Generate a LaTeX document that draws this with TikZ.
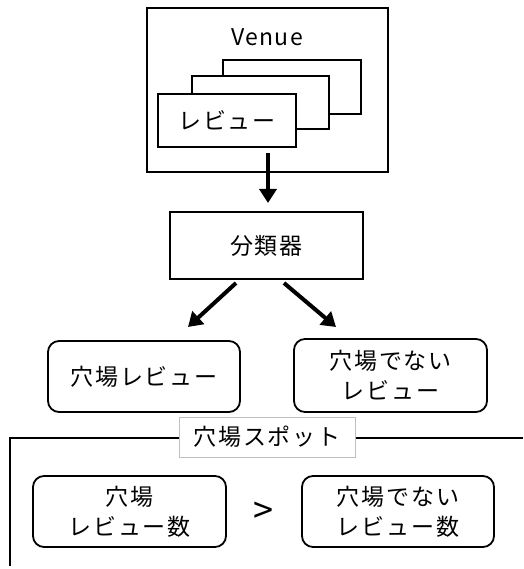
\documentclass[tikz,border=0pt]{standalone}
\usepackage{fontspec}
\setmainfont{Noto Sans CJK JP}[LetterSpace=8]
\newfontfamily\latinfont{Noto Sans CJK JP}[LetterSpace=6]
\usetikzlibrary{arrows.meta}
\begin{document}
\begin{tikzpicture}[x=1pt,y=-1pt,
  every node/.style={inner sep=0pt, outer sep=0pt, font=\fontsize{23}{30}\selectfont, align=center},
  sqbox/.style={draw, line width=1.8pt, fill=white},
  rbox/.style={draw, line width=1.8pt, rounded corners=11pt, fill=white},
  bigarrow/.style={line width=4pt, -{Triangle[length=14pt,width=17pt]}},
  framel/.style={line width=1.8pt},
  tagbox/.style={draw=black!25, line width=1pt, fill=white}]
\useasboundingbox (0,0) rectangle (523,569);
% Venue
\node[sqbox, minimum width=241, minimum height=164] (venue) at (267.5,90) {};
\node[font=\latinfont\fontsize{23}{26}\selectfont] (venuelbl) at (267,37) {Venue};
\node[sqbox, minimum width=138, minimum height=54] (back) at (292,87) {};
\node[sqbox, minimum width=137, minimum height=53] (mid) at (260.5,102.5) {};
\node[sqbox, minimum width=138, minimum height=53] (front) at (227,120.5) {レビュー};
% classifier
\node[sqbox, minimum width=193, minimum height=67] (clf) at (266.5,245.5) {分類器};
\coordinate (dstart) at (268,153);
\draw[bigarrow, shorten >=9pt] (dstart) -- (clf.north -| dstart);
% outputs
\node[rbox, minimum width=192, minimum height=71] (hole) at (144,376.5) {穴場レビュー};
\node[rbox, minimum width=193, minimum height=73] (nothole) at (390.5,375.5) {穴場でない\\レビュー};
\draw[bigarrow] ([xshift=-30.5pt,yshift=-4pt]clf.south) -- ([xshift=44pt,yshift=14pt]hole.north);
\draw[bigarrow] ([xshift=17.5pt,yshift=-4pt]clf.south) -- ([xshift=-54.5pt,yshift=12pt]nothole.north);
% spot frame
\coordinate (fbl) at (10,566);
\coordinate (ftl) at (10,438);
\coordinate (ftr) at (523,438);
\draw[framel] (fbl) -- (ftl) -- (ftr);
\node[tagbox, minimum width=176, minimum height=40] (spot) at (267,437) {穴場スポット};
\node[rbox, minimum width=193, minimum height=71] (cnt1) at (129.5,511.5) {穴場\\レビュー数};
\node[rbox, minimum width=192, minimum height=71] (cnt2) at (398,511.5) {穴場でない\\レビュー数};
\node[font=\latinfont\fontsize{36}{40}\selectfont] (gt) at (263,513) {>};
\end{tikzpicture}
\end{document}
